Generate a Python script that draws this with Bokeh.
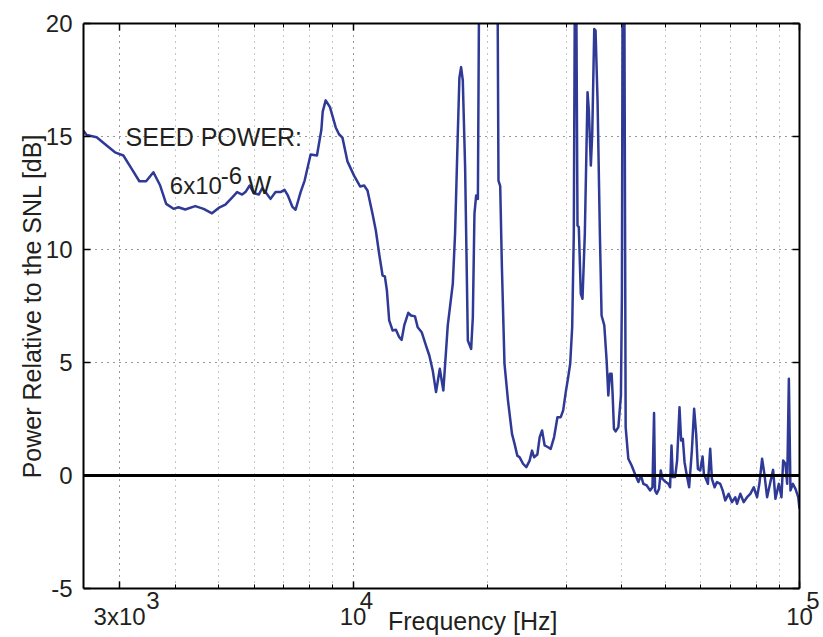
from bokeh.plotting import figure
from bokeh.models import (FixedTicker, LinearAxis, LogAxis, Span, Label,
                          CustomJSTickFormatter)
from bokeh.embed import file_html
from bokeh.resources import INLINE

FONT = "Liberation Sans"
TEXT = "#231f20"
TRACE = "#2e3a96"
NBSP = "\u00a0"

# Measured spectrum: frequency [Hz] and power relative to the shot-noise level [dB]
freq_hz = [
    2490, 2530, 2665, 2806, 2929, 3058, 3193, 3321, 3439, 3571,
    3698, 3814, 3961, 4064, 4207, 4431, 4626, 4831, 5000, 5176,
    5358, 5498, 5643, 5740, 5868, 5991, 6149, 6257, 6365, 6533,
    6704, 6879, 7023, 7144, 7308, 7434, 7630, 7790, 8034, 8301,
    8492, 8551, 8683, 8877, 9145, 9301, 9467, 9714, 10052, 10369,
    10586, 10773, 11055, 11246, 11440, 11644, 11783, 11906, 12049, 12262,
    12474, 12688, 12847, 13020, 13293, 13481, 13763, 13955, 14247, 14568,
    14819, 15081, 15341, 15640, 15931, 16298, 16726, 16924, 17163, 17306,
    17458, 17612, 17824, 18076, 18387, 18548, 18703, 18867, 19037, 19134,
    19300, 20200, 21029, 21170, 21360, 21548, 21838, 22233, 22699, 23004,
    23330, 23605, 24027, 24440, 24860, 25171, 25433, 25870, 26182, 26510,
    26866, 27347, 27715, 28205, 28696, 29190, 29555, 29953, 30328, 30644,
    30963, 31221, 31495, 31823, 32036, 32370, 32655, 33048, 33515, 33740,
    34092, 34336, 34694, 34927, 35291, 35716, 36030, 36540, 36980, 37305,
    37616, 37947, 38140, 38404, 38741, 39290, 39811, 40013, 40225, 40430,
    40794, 41362, 42073, 42806, 43562, 44150, 44701, 45479, 46261, 46840,
    47230, 47470, 47888, 48465, 48891, 49321, 50166, 50876, 51299, 51678,
    52025, 52640, 53188, 53853, 54302, 54791, 55273, 55926, 56600, 57400,
    58076, 58682, 59212, 59911, 60661, 61068, 61704, 62347, 63096, 63650,
    64550, 65328, 66451, 67282, 68186, 69391, 70600, 71814, 72444, 73690,
    75008, 76297, 77610, 78980, 80337, 81305, 82453, 83428, 84608, 86062,
    87279, 88331, 89892, 91122, 91923, 92999, 93843, 94662, 95449, 96642,
    97949, 99334, 100000,
]
power_db = [
    15.25, 15.07, 14.97, 14.6, 14.3, 14.16, 13.57, 13.02, 13.02, 13.42,
    12.83, 12.02, 11.8, 11.87, 11.77, 11.92, 11.8, 11.6, 11.84, 11.99,
    12.3, 12.54, 12.43, 12.54, 12.83, 12.49, 12.43, 12.71, 12.54, 12.24,
    12.54, 12.54, 12.64, 12.39, 11.9, 11.76, 12.54, 13.05, 14.2, 14.16,
    15.3, 16.1, 16.6, 16.3, 15.4, 15.1, 14.95, 13.9, 13.27, 12.79,
    12.83, 12.61, 11.58, 10.84, 9.81, 8.85, 8.81, 8.19, 6.86, 6.42,
    6.45, 6.12, 6.0, 6.64, 7.2, 7.08, 7.04, 6.56, 6.34, 5.75,
    5.31, 4.65, 3.69, 4.72, 3.76, 6.64, 8.48, 10.7, 15.12, 17.6,
    18.07, 17.48, 13.64, 5.97, 5.6, 7.0, 11.58, 12.39, 12.24, 19.85,
    26.0, 27.5, 25.0, 13.05, 12.8, 9.2, 4.94, 3.32, 1.84, 1.4,
    0.88, 0.81, 0.52, 0.37, 0.66, 1.1, 0.81, 0.93, 1.7, 1.99,
    1.33, 1.25, 1.18, 1.7, 2.58, 2.58, 2.88, 3.69, 4.35, 4.94,
    6.56, 10.7, 28.0, 11.06, 10.99, 8.04, 7.82, 10.7, 16.96, 16.15,
    13.72, 15.12, 19.76, 19.69, 16.6, 10.7, 7.08, 6.64, 5.09, 3.54,
    4.5, 4.5, 3.6, 2.07, 1.95, 2.14, 3.54, 8.0, 28.0, 28.0,
    2.14, 0.74, 0.44, 0.07, -0.29, 0.0, -0.37, -0.44, -0.66, -0.52,
    2.76, -0.66, -0.81, -0.59, 0.22, -0.15, -0.29, -0.37, -0.52, 1.33,
    -0.07, -0.07, 0.66, 3.02, 1.55, 1.62, 0.59, 0.0, -0.52, 1.1,
    2.95, 1.84, 0.29, 0.22, 0.84, 0.07, -0.15, -0.37, 1.18, -0.15,
    -0.52, -0.29, -0.37, -0.66, -1.1, -0.81, -1.18, -0.96, -1.25, -0.81,
    -1.18, -0.96, -0.81, -0.52, -0.96, -0.37, 0.74, 0.07, -0.96, -0.29,
    0.25, -1.03, -0.37, -0.96, 0.66, 0.52, -0.37, 4.28, -0.66, -0.37,
    -0.59, -0.96, -1.47,
]

x_major = [3000, 10000, 100000]
x_minor = [4000, 5000, 6000, 7000, 8000, 9000,
           20000, 30000, 40000, 50000, 60000, 70000, 80000, 90000]
x_tick_base = ["3x10", "10", "10"]
x_tick_exp = ["3", "4", "5"]
y_ticks = [-5, 0, 5, 10, 15, 20]

p = figure(width=823, height=637, x_axis_type="log",
           x_range=(2490, 100000), y_range=(-5, 20),
           output_backend="svg", toolbar_location=None,
           min_border_left=83, min_border_right=24,
           min_border_top=23, min_border_bottom=49)
p.outline_line_color = None
p.background_fill_color = "white"
p.border_fill_color = "white"

xt = FixedTicker(ticks=x_major, minor_ticks=x_minor)
yt = FixedTicker(ticks=y_ticks)


def style_axis(ax):
    ax.axis_line_color = "black"
    ax.axis_line_width = 2
    ax.major_tick_in = 7
    ax.major_tick_out = 0
    ax.major_tick_line_color = "black"
    ax.major_tick_line_width = 1.5
    ax.minor_tick_in = 4
    ax.minor_tick_out = 0
    ax.minor_tick_line_color = "black"


def blank_labels(ax):
    ax.formatter = CustomJSTickFormatter(code="return ''")
    ax.major_label_standoff = 0


# bottom axis: each label is a raised exponent line over its mantissa;
# the exponent is pushed right of the centre with no-break spaces
exp_pad = [10, 4, 4]
xa = p.xaxis[0]
xa.ticker = xt
style_axis(xa)
xa.major_label_overrides = {
    t: NBSP * k + e + "\n" + b
    for t, b, e, k in zip(x_major, x_tick_base, x_tick_exp, exp_pad)
}
xa.major_label_text_font = FONT
xa.major_label_text_font_size = "24px"
xa.major_label_text_color = TEXT
xa.major_label_text_line_height = 0.6
xa.major_label_standoff = -2
# axis title sits right of centre, level with the tick numbers
xa.axis_label = NBSP * 9 + "Frequency [Hz]"
xa.axis_label_text_font = FONT
xa.axis_label_text_font_size = "25px"
xa.axis_label_text_font_style = "normal"
xa.axis_label_text_color = TEXT
xa.axis_label_standoff = -26

ya = p.yaxis[0]
ya.ticker = yt
style_axis(ya)
ya.major_label_overrides = {-5: "-5"}
ya.major_label_text_font = FONT
ya.major_label_text_font_size = "24px"
ya.major_label_text_color = TEXT
ya.major_label_standoff = 11
ya.axis_label = "Power Relative to the SNL [dB]"
ya.axis_label_text_font = FONT
ya.axis_label_text_font_size = "25px"
ya.axis_label_text_font_style = "normal"
ya.axis_label_text_color = TEXT
ya.axis_label_standoff = -3

top = LogAxis(ticker=xt)
style_axis(top)
blank_labels(top)
p.add_layout(top, "above")
right = LinearAxis(ticker=yt)
style_axis(right)
blank_labels(right)
p.add_layout(right, "right")

# dotted grid: major lines dark, minor (log decades) lighter
p.xgrid.ticker = xt
p.ygrid.ticker = yt
for g in (p.xgrid[0], p.ygrid[0]):
    g.grid_line_color = "#333333"
    g.grid_line_dash = "1 5"
    g.grid_line_width = 1
p.xgrid[0].minor_grid_line_color = "#8a8a8a"
p.xgrid[0].minor_grid_line_dash = "1 5"
p.xgrid[0].minor_grid_line_width = 1

p.line(freq_hz, power_db, line_color=TRACE, line_width=2.5, line_join="round")

# shot-noise level reference
p.add_layout(Span(location=0, dimension="width", line_color="black", line_width=3))

# seed power annotation
p.add_layout(Label(x=3094, y=15.0, text="SEED POWER:", text_align="left",
                   text_baseline="alphabetic", text_font=FONT,
                   text_font_size="25px", text_color=TEXT))
p.add_layout(Label(x=3887, y=12.85, text="6x10", text_align="left",
                   text_baseline="alphabetic", text_font=FONT,
                   text_font_size="24px", text_color=TEXT))
p.add_layout(Label(x=3887, y=12.85, x_offset=51, y_offset=10, text="-6",
                   text_align="left", text_baseline="alphabetic", text_font=FONT,
                   text_font_size="24px", text_color=TEXT))
p.add_layout(Label(x=3887, y=12.85, x_offset=78, text="W", text_align="left",
                   text_baseline="alphabetic", text_font=FONT,
                   text_font_size="25px", text_color=TEXT))

open("out.html", "w").write(file_html(p, INLINE))
